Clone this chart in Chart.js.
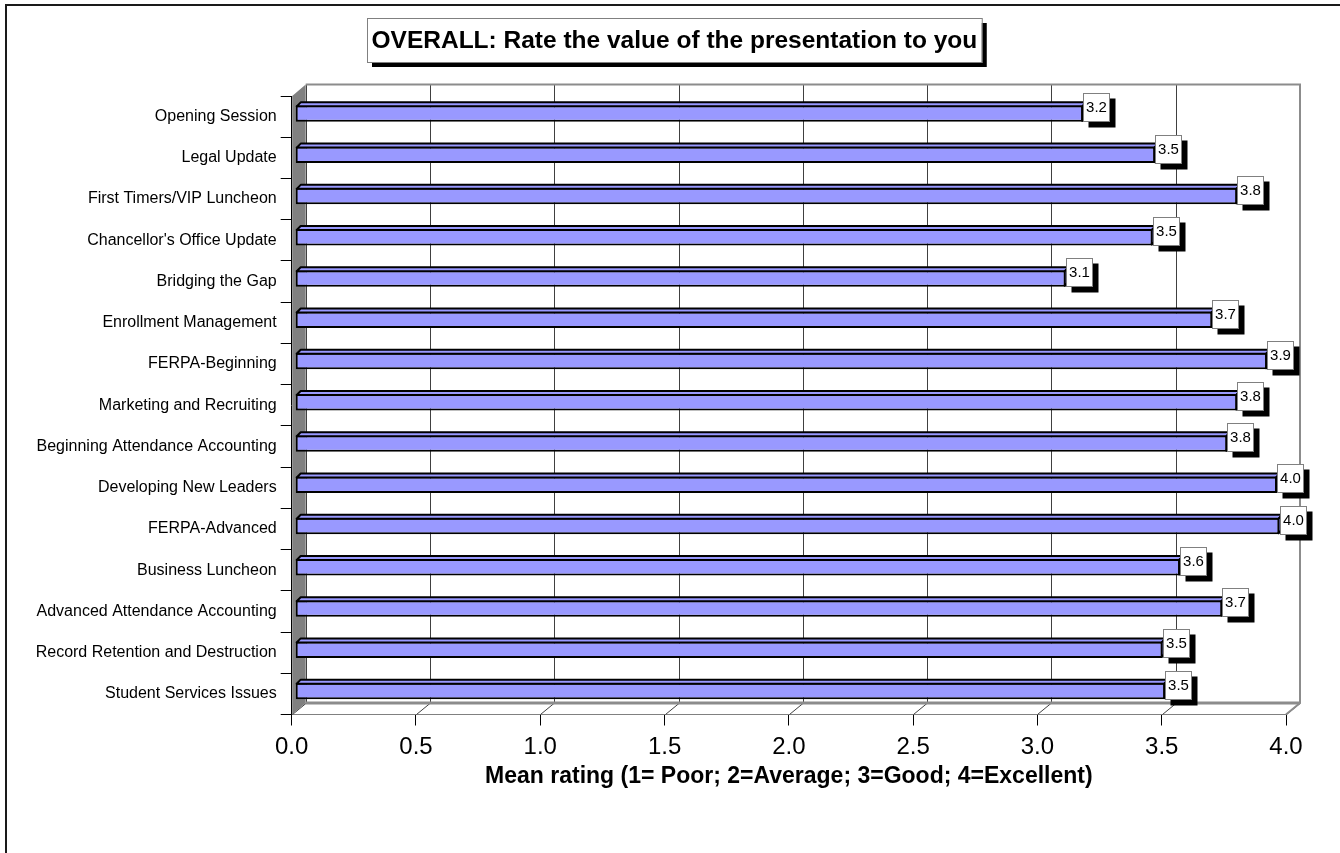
<!DOCTYPE html>
<html>
<head>
<meta charset="utf-8">
<title>OVERALL: Rate the value of the presentation to you</title>
<script src="https://cdn.jsdelivr.net/npm/chart.js@4.4.1/dist/chart.umd.min.js"></script>
<style>
  html, body { margin: 0; padding: 0; background: #fff; }
  #wrap { width: 1340px; height: 853px; position: relative; }
</style>
</head>
<body>
<div id="wrap"><canvas id="ratingChart"></canvas></div>
<script>
/* ================================
   Data
================================ */
const chartTitle = "OVERALL: Rate the value of the presentation to you";
const axisTitle = "Mean rating (1= Poor; 2=Average; 3=Good; 4=Excellent)";

const sessions = [
  "Opening Session",
  "Legal Update",
  "First Timers/VIP Luncheon",
  "Chancellor's Office Update",
  "Bridging the Gap",
  "Enrollment Management",
  "FERPA-Beginning",
  "Marketing and Recruiting",
  "Beginning Attendance Accounting",
  "Developing New Leaders",
  "FERPA-Advanced",
  "Business Luncheon",
  "Advanced Attendance Accounting",
  "Record Retention and Destruction",
  "Student Services Issues"
];

const meanRatings = [
  3.17, 3.46, 3.79, 3.45, 3.10, 3.69, 3.91, 3.79,
  3.75, 3.95, 3.96, 3.56, 3.73, 3.49, 3.50
];

const ratingTicks = ["0.0", "0.5", "1.0", "1.5", "2.0", "2.5", "3.0", "3.5", "4.0"];

/* ================================
   Look (Excel 3D style)
================================ */
const FONT = '"Liberation Sans", Arial, sans-serif';
const BAR_FILL = "#9999FF";
const WALL_GRAY = "#808080";
const DEPTH_X = 14;      // back wall offset
const DEPTH_Y = -11.5;
const BAR_DX = 3.5;      // bar front face sits a bit inside
const BAR_DY = -3;
const BAR_TOP = 4;       // bar depth

Chart.defaults.font.family = FONT;
Chart.defaults.color = "#000";

/* ================================
   3D wall / floor / labels plugin
================================ */
const excel3d = {
  id: "excel3d",

  beforeDraw(chart) {
    const ctx = chart.ctx;
    ctx.save();
    ctx.fillStyle = "#fff";
    ctx.fillRect(0, 0, chart.width, chart.height);

    // outer chart border (only top/left fall inside the picture)
    ctx.strokeStyle = "#1a1a1a";
    ctx.lineWidth = 2;
    ctx.strokeRect(6, 5, chart.width + 20, chart.height + 20);

    // title box with shadow
    ctx.font = "bold 24.5px " + FONT;
    const tw = ctx.measureText(chartTitle).width;
    const w = tw + 9, h = 44;
    const cx = 674, top = 18;
    const left = Math.round(cx - w / 2);
    ctx.fillStyle = "#000";
    ctx.fillRect(left + 5, top + 5, w, h);
    ctx.fillStyle = "#fff";
    ctx.fillRect(left, top, w, h);
    ctx.strokeStyle = WALL_GRAY;
    ctx.lineWidth = 1;
    ctx.strokeRect(left + 0.5, top + 0.5, w, h);
    ctx.fillStyle = "#000";
    ctx.textAlign = "center";
    ctx.textBaseline = "middle";
    ctx.fillText(chartTitle, left + w / 2, top + h / 2 + 1);
    ctx.restore();
  },

  beforeDatasetsDraw(chart) {
    const ctx = chart.ctx;
    const {left, right, top, bottom} = chart.chartArea;
    const xs = chart.scales.x;

    ctx.save();

    // floor
    ctx.fillStyle = "#fff";
    ctx.beginPath();
    ctx.moveTo(left, bottom);
    ctx.lineTo(right, bottom);
    ctx.lineTo(right + DEPTH_X, bottom + DEPTH_Y);
    ctx.lineTo(left + DEPTH_X, bottom + DEPTH_Y);
    ctx.closePath();
    ctx.fill();

    // back wall grid lines + floor diagonals
    ctx.strokeStyle = "#404040";
    ctx.lineWidth = 1;
    xs.ticks.forEach(t => {
      const px = Math.round(xs.getPixelForValue(t.value)) + 0.5;
      ctx.beginPath();
      ctx.moveTo(px + DEPTH_X, top + DEPTH_Y);
      ctx.lineTo(px + DEPTH_X, bottom + DEPTH_Y);
      ctx.stroke();
      ctx.beginPath();
      ctx.moveTo(px, bottom);
      ctx.lineTo(px + DEPTH_X, bottom + DEPTH_Y);
      ctx.stroke();
    });

    // back wall border (top + right) and floor back edge
    ctx.strokeStyle = "#8c8c8c";
    ctx.lineWidth = 2;
    ctx.beginPath();
    ctx.moveTo(left + DEPTH_X, top + DEPTH_Y);
    ctx.lineTo(right + DEPTH_X, top + DEPTH_Y);
    ctx.lineTo(right + DEPTH_X, bottom + DEPTH_Y);
    ctx.lineTo(right, bottom);
    ctx.stroke();
    ctx.lineWidth = 3;
    ctx.beginPath();
    ctx.moveTo(left + DEPTH_X, bottom + DEPTH_Y);
    ctx.lineTo(right + DEPTH_X, bottom + DEPTH_Y);
    ctx.stroke();

    // left side wall
    ctx.fillStyle = WALL_GRAY;
    ctx.beginPath();
    ctx.moveTo(left + 0.5, top);
    ctx.lineTo(left + DEPTH_X, top + DEPTH_Y);
    ctx.lineTo(left + DEPTH_X, bottom + DEPTH_Y);
    ctx.lineTo(left + 0.5, bottom);
    ctx.closePath();
    ctx.fill();

    ctx.restore();
  },

  beforeDatasetDraw(chart) {
    chart.ctx.save();
    chart.ctx.translate(BAR_DX, BAR_DY);
  },

  afterDatasetDraw(chart, args) {
    const ctx = chart.ctx;
    ctx.fillStyle = BAR_FILL;
    ctx.strokeStyle = "#000";
    ctx.lineWidth = 2;
    ctx.lineJoin = "round";
    args.meta.data.forEach(el => {
      const {x, y, base, height} = el.getProps(["x", "y", "base", "height"], true);
      const t = y - height / 2 + 1, b = y + height / 2 - 1;
      // top face
      ctx.beginPath();
      ctx.moveTo(base + 1, t);
      ctx.lineTo(base + 1 + BAR_TOP, t - BAR_TOP);
      ctx.lineTo(x - 1 + BAR_TOP, t - BAR_TOP);
      ctx.lineTo(x - 1, t);
      ctx.closePath();
      ctx.fill();
      ctx.stroke();
      // end face
      ctx.beginPath();
      ctx.moveTo(x - 1, t);
      ctx.lineTo(x - 1 + BAR_TOP, t - BAR_TOP);
      ctx.lineTo(x - 1 + BAR_TOP, b - BAR_TOP);
      ctx.lineTo(x - 1, b);
      ctx.closePath();
      ctx.fill();
      ctx.stroke();
    });
    ctx.restore();
  },

  afterDatasetsDraw(chart) {
    const ctx = chart.ctx;
    const meta = chart.getDatasetMeta(0);
    ctx.save();
    ctx.font = "15px " + FONT;
    ctx.textAlign = "center";
    ctx.textBaseline = "middle";
    meta.data.forEach((el, i) => {
      const {x, y, height} = el.getProps(["x", "y", "height"], true);
      const text = meanRatings[i].toFixed(1);
      const w = Math.round(ctx.measureText(text).width + 6);
      const h = 29;
      const left = Math.round(x + BAR_DX);
      const top = Math.round(y - height / 2 + BAR_DY - 12);
      ctx.fillStyle = "#000";
      ctx.fillRect(left + 5.5, top + 5.5, w, h);
      ctx.fillStyle = "#fff";
      ctx.fillRect(left, top, w, h);
      ctx.strokeStyle = WALL_GRAY;
      ctx.lineWidth = 1;
      ctx.strokeRect(left + 0.5, top + 0.5, w - 1, h - 1);
      ctx.fillStyle = "#000";
      ctx.fillText(text, left + w / 2, top + 14.5);
    });
    ctx.restore();
  }
};

/* ================================
   Chart
================================ */
new Chart(document.getElementById("ratingChart"), {
  type: "bar",
  data: {
    labels: sessions,
    datasets: [
      {
        data: meanRatings,
        backgroundColor: BAR_FILL,
        borderColor: "#000",
        borderWidth: 2,
        borderSkipped: false,
        barPercentage: 0.5,
        categoryPercentage: 0.8
      }
    ]
  },
  options: {
    indexAxis: "y",
    responsive: true,
    maintainAspectRatio: false,
    animation: false,
    layout: {
      padding: { top: 96, right: 54, bottom: 0, left: 0 }
    },
    plugins: {
      legend: { display: false },
      tooltip: { enabled: false },
      title: { display: false }
    },
    scales: {
      x: {
        min: 0,
        max: 4,
        ticks: {
          stepSize: 0.5,
          padding: 7,
          font: { size: 24 },
          color: "#000",
          callback: (v, i) => ratingTicks[i]
        },
        grid: {
          drawOnChartArea: false,
          drawTicks: true,
          tickLength: 11,
          color: "#000"
        },
        border: { display: true, color: "#000", width: 1 },
        title: {
          display: true,
          text: axisTitle,
          font: { size: 23, weight: "bold" },
          color: "#000",
          padding: { top: 0, bottom: 63 }
        },
        afterFit: scale => { scale.height = 853 - 714.5; }
      },
      y: {
        ticks: {
          padding: 4,
          font: { size: 16 },
          color: "#000",
          autoSkip: false
        },
        grid: {
          offset: true,
          drawOnChartArea: false,
          drawTicks: true,
          tickLength: 11,
          color: "#000"
        },
        border: { display: true, color: "#000", width: 1 },
        afterFit: scale => { scale.width = 291.7; }
      }
    }
  },
  plugins: [excel3d]
});
</script>
</body>
</html>
